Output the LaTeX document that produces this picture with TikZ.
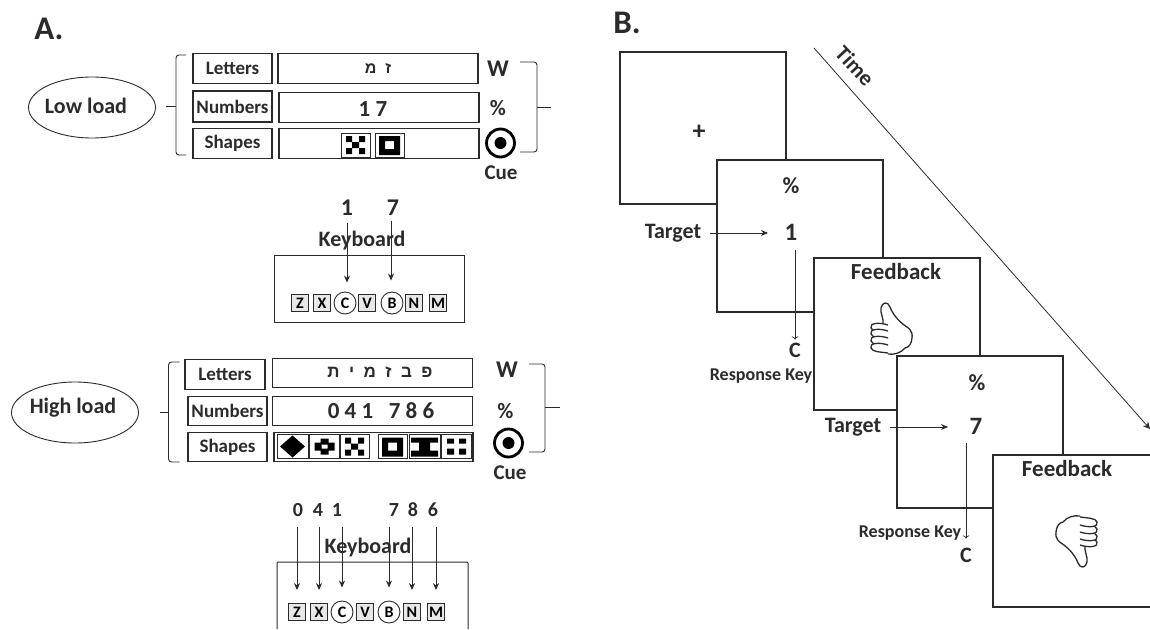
\documentclass[tikz,border=0pt]{standalone}
\usepackage{fontspec}
\setmainfont{Carlito}
\newfontfamily\hebfont[Script=Hebrew]{Liberation Sans}
\TeXXeTstate=1
\usetikzlibrary{arrows.meta, shapes.geometric}
\definecolor{inkgray}{HTML}{2B2B2B}
\tikzset{
  lab/.style={font=\fontsize{#1}{#1}\selectfont\bfseries, text=inkgray, inner sep=0pt},
  lab/.default=20,
  slot/.style={draw=inkgray, line width=1.4pt, fill=white, minimum height=29.5pt, inner sep=0pt, font=\fontsize{19}{19}\selectfont\bfseries, text=inkgray},
  tag/.style={slot, minimum width=79pt},
  field/.style={slot, minimum width=200pt},
  loadoval/.style={ellipse, draw=inkgray, line width=0.9pt, inner sep=0pt},
  keycap/.style={draw=inkgray, line width=0.9pt, fill=gray!18, minimum size=17pt, inner sep=0pt, font=\fontsize{16}{16}\selectfont\bfseries},
  roundcap/.style={circle, draw=inkgray, line width=0.9pt, minimum size=22pt, inner sep=0pt, font=\fontsize{16}{16}\selectfont\bfseries},
  cuering/.style={circle, draw=black, line width=2.8pt, minimum size=28pt, inner sep=0pt},
  cuedot/.style={circle, fill=black, minimum size=12pt, inner sep=0pt},
  screen/.style={draw=inkgray, line width=2pt, fill=white, minimum width=166pt, minimum height=152pt, inner sep=0pt},
  brack/.style={draw=inkgray, line width=0.9pt, rounded corners=3pt},
  keyarrow/.style={draw=inkgray, line width=0.9pt, -{Stealth[length=7pt,width=6pt]}},
  openarrow/.style={draw=inkgray, line width=0.7pt, ->},
  iconbox/.style={draw=inkgray, line width=0.8pt, fill=white},
  iconX/.pic={
    \draw[iconbox] (0,0) rectangle (29,24);
    \fill (5,3) rectangle (11,9) (18,3) rectangle (24,9) (5,15) rectangle (11,21) (18,15) rectangle (24,21) (11,9) rectangle (18,15);
  },
  iconO/.pic={
    \draw[iconbox] (0,0) rectangle (29,24);
    \fill[even odd rule] (4,3) rectangle (25,22) (10,8) rectangle (19,16);
  },
  iconD/.pic={
    \draw[iconbox] (0,0) rectangle (31,24);
    \fill (15.5,1) -- (28,12) -- (15.5,23) -- (3,12) -- cycle;
  },
  iconP/.pic={
    \draw[iconbox] (0,0) rectangle (30,24);
    \fill[even odd rule] (11,4) rectangle (19,8) (5,8) rectangle (25,16) (11,16) rectangle (19,20) (12,10) rectangle (18,14);
  },
  iconH/.pic={
    \draw[iconbox] (0,0) rectangle (31,24);
    \fill (2,3) rectangle (29,8) (10,8) rectangle (21,16) (2,16) rectangle (29,22);
  },
  iconS/.pic={
    \draw[iconbox] (0,0) rectangle (30,24);
    \fill (6,4) rectangle (13,9) (18,4) rectangle (25,9) (6,14) rectangle (13,20) (18,14) rectangle (25,20);
  },
  thumbup/.pic={
    \draw[inkgray, line width=1.3pt, fill=white, line join=round] (-8,-4) .. controls (-7,-9) and (-11,-15) .. (-10,-20) .. controls (-9,-26) and (-3,-27) .. (-1,-21) .. controls (2,-13) and (8,-7) .. (13,-3) .. controls (18,0) and (22,3) .. (21,10) .. controls (20,17) and (18,19) .. (14,20) .. controls (10,25) and (3,27) .. (-3,26);
    \foreach \fy in {-3,3,10,17}
      \draw[inkgray, line width=1.3pt, fill=white] (-3,\fy) .. controls (-12,\fy-3) and (-22,\fy-2) .. (-20,\fy+3) .. controls (-19,\fy+7) and (-10,\fy+7) .. (-3,\fy+8);
  }
}
\begin{document}
\begin{tikzpicture}[x=1pt, y=-1pt]
    \useasboundingbox (0,0) rectangle (1150,629);

    % Panel A, low load
    \node[lab=33] (panelA) at (49,29) {A.};
    \node[loadoval, minimum width=127pt, minimum height=61pt] (lowOval) at (92,107.5) {};
    \node[lab=22] (lowText) at (86,106) {Low load};
    \draw[brack] (186,55) -- (176,55) -- (176,155) -- (186,155);
    \draw[brack] (166,106) -- (176,106);
    \node[tag] (lowLetters) at (232.5,68.5) {Letters};
    \node[tag, minimum height=31pt] (lowNumbers) at (232.5,106.5) {Numbers};
    \node[tag] (lowShapes) at (232.5,143.5) {Shapes};
    \node[field] (lowLetterVal) at (378,68.5) {\hebfont\fontsize{16}{16}\selectfont\beginR ז\ \ מ\endR};
    \node[field] (lowNumberVal) at (379,107.5) {};
    \node[lab=23] (lowDigits) at (373,109) {1 7};
    \node[field] (lowShapeVal) at (379,143.5) {};
    \pic at (341,133) {iconX};
    \pic at (375,133) {iconO};
    \node[lab=24] (lowW) at (498,69) {W};
    \node[lab=22] (lowPct) at (498,108) {\%};
    \node[cuering] (lowRing) at (500.5,143) {};
    \node[cuedot] (lowDot) at (500.5,143) {};
    \node[lab=21] (lowCue) at (501,173) {Cue};
    \draw[brack] (520,62) -- (537,62) -- (537,152) -- (520,152);
    \draw[brack] (537,107) -- (551,107);

    % Keyboard of the low load
    \node[draw=inkgray, line width=1pt, minimum width=190pt, minimum height=67pt] (lowBoard) at (369,288.5) {};
    \node[lab=22] (lowBoardText) at (362,241) {Keyboard};
    \foreach \kname/\kx/\ktext in {lowZ/300/Z, lowX/322/X, lowV/367/V, lowN/414/N, lowM/438/M}
      \node[keycap] (\kname) at (\kx,303) {\ktext};
    \foreach \kname/\kx/\ktext in {lowC/345/C, lowB/392/B}
      \node[roundcap] (\kname) at (\kx,303) {\ktext};
    \node[lab=24] (lowOne) at (347,208) {1};
    \node[lab=24] (lowSeven) at (393,208) {7};
    \draw[keyarrow, shorten >=9pt] (lowC.north |- lowOne.south) ++(2,7) coordinate (lowOneStart) -- (lowOneStart |- lowC.north);
    \draw[keyarrow, shorten >=11pt] (lowB.north |- lowSeven.south) ++(-1,5) coordinate (lowSevenStart) -- (lowSevenStart |- lowB.north);

    % Panel A, high load
    \node[loadoval, minimum width=127pt, minimum height=61pt] (highOval) at (75,412.5) {};
    \node[lab=22] (highText) at (73,408) {High load};
    \draw[brack] (179.5,362) -- (168.5,362) -- (168.5,462) -- (179.5,462);
    \draw[brack] (160,412) -- (168.5,412);
    \node[tag, minimum width=80pt] (highLetters) at (225,374.5) {Letters};
    \node[tag] (highNumbers) at (227.5,411) {Numbers};
    \node[tag] (highShapes) at (227.5,447) {Shapes};
    \node[field] (highLetterVal) at (372.5,373) {};
    \node[lab=17] (highHebrew) at (380,372) {\hebfont\beginR פ\ \ ב\ \ ז\ \ מ\ \ י\ \ ת\endR};
    \node[field] (highNumberVal) at (372.5,411) {};
    \node[lab=23] (highDigits) at (381,411) {0 4 1\ \ \ 7 8 6};
    \node[field, minimum width=199pt] (highShapeVal) at (373.5,447) {};
    \pic at (277,434.5) {iconD};
    \pic at (309.5,434.5) {iconP};
    \pic at (340,434.5) {iconX};
    \pic at (378,434.5) {iconO};
    \pic at (409,434.5) {iconH};
    \pic at (441,434.5) {iconS};
    \node[lab=24] (highW) at (507,370) {W};
    \node[lab=22] (highPct) at (505.5,411) {\%};
    \node[cuering] (highRing) at (508.5,443) {};
    \node[cuedot] (highDot) at (508.5,443) {};
    \node[lab=21] (highCue) at (510,473) {Cue};
    \draw[brack] (529,364) -- (545,364) -- (545,452) -- (529,452);
    \draw[brack] (545,407) -- (560,407);

    % Keyboard of the high load, cut by the page
    \draw[draw=inkgray, line width=1pt, rounded corners=1pt] (277,629) -- (277,562) -- (468,562) -- (468,629);
    \node[lab=22] (highBoardText) at (368,548) {Keyboard};
    \foreach \kname/\kx/\ktext in {highZ/297/Z, highX/319/X, highV/365/V, highN/412/N, highM/436/M}
      \node[keycap] (\kname) at (\kx,612) {\ktext};
    \foreach \kname/\kx/\ktext in {highC/342/C, highB/389/B}
      \node[roundcap] (\kname) at (\kx,612) {\ktext};
    \foreach \dname/\dx/\dtext/\kname in {dZero/298/0/highZ, dFour/318/4/highX, dOne/337/1/highC, dSeven/394/7/highB, dEight/413/8/highN, dSix/433/6/highM} {
      \node[lab=20] (\dname) at (\dx,510) {\dtext};
      \draw[keyarrow, shorten <=10pt, shorten >=13pt] (\kname.north |- \dname.south) -- (\kname.north);
    }

    % Panel B, the screens from back to front
    \node[lab=33] (panelB) at (627,23) {B.};
    \node[screen] (fixScreen) at (702.5,127.5) {};
    \node[lab=26] (fixMark) at (699,132) {+};
    \node[screen] (firstScreen) at (800,236) {};
    \node[screen] (goodScreen) at (897,333.5) {};
    \node[screen] (secondScreen) at (980,432) {};
    \node[screen] (badScreen) at (1076,530.5) {};

    % Time line
    \coordinate (timeStart) at (814,48);
    \coordinate (timeEnd) at (1150,429);
    \draw[draw=inkgray, line width=0.8pt, -{Stealth[length=7pt,width=7pt]}] (timeStart) -- (timeEnd);
    \node[lab=22, rotate=-47] (timeText) at (855,66) {Time};

    % First trial
    \node[lab=23] (firstPct) at (791,186) {\%};
    \node[lab=25] (firstNum) at (791,232) {1};
    \node[lab=22] (firstTarget) at (673,233) {Target};
    \draw[keyarrow, shorten <=9pt] (firstTarget.east) -- (768,233);
    \node[lab=22] (firstKey) at (795,350) {C};
    \node[lab=18] (firstResp) at (761,376) {Response Key};
    \draw[openarrow, shorten <=10pt, shorten >=3pt] (firstNum.south -| firstKey.north) -- (firstKey.north);
    \node[lab=23] (goodText) at (896,272) {Feedback};
    \pic at (891,328) {thumbup};

    % Second trial
    \node[lab=23] (secondPct) at (977,383) {\%};
    \node[lab=25] (secondNum) at (976,426) {7};
    \node[lab=22] (secondTarget) at (853,427) {Target};
    \draw[keyarrow, shorten <=9pt] (secondTarget.east) -- (948,427);
    \node[lab=22] (secondKey) at (966,555) {C};
    \node[lab=18] (secondResp) at (910,533) {Response Key};
    \draw[openarrow, shorten <=9pt, shorten >=9pt] (secondNum.south -| secondKey.north) -- (secondKey.north);
    \node[lab=23] (badText) at (1067,469) {Feedback};
    \pic[rotate=180] at (1077,542) {thumbup};
\end{tikzpicture}
\end{document}
